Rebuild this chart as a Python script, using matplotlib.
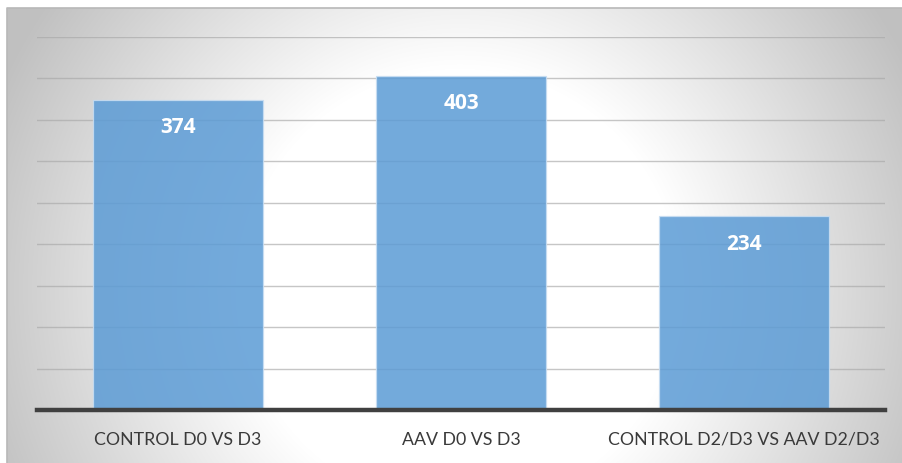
import numpy as np
import matplotlib
matplotlib.use("Agg")
import matplotlib.pyplot as plt

categories = ["CONTROL D0 VS D3", "AAV D0 VS D3", "CONTROL D2/D3 VS AAV D2/D3"]
values = [374, 403, 234]
y_max = 450
grid_step = 50

W, H = 903, 464
fig = plt.figure(figsize=(W / 100, H / 100), dpi=100)
fig.patch.set_facecolor("white")

# Chart-area background: radial white-to-grey gradient
bx0, by0 = 7, 9  # pixel offsets of the chart area (left, top)
bg = fig.add_axes([bx0 / W, 0, 1 - bx0 / W, (H - by0) / H])
bg.set_axis_off()
xs = np.arange(bx0, W) + 0.5
ys = np.arange(by0, H) + 0.5
X, Y = np.meshgrid(xs, ys)
r = np.hypot(X - 460, Y - 290)
g = 255 - 62 * np.clip((r - 220) / 280, 0, 1.12)
g = np.clip(g, 192, 255) / 255.0
bg.imshow(np.dstack([g, g, g]), aspect="auto", interpolation="bilinear",
          extent=[0, 1, 0, 1], transform=bg.transAxes)
bg.plot([0, 0, 1], [0, 1, 1], transform=bg.transAxes, color="#b8b8b8",
        lw=1.2, clip_on=False)
bg.set_xlim(0, 1)
bg.set_ylim(0, 1)

# Plot area
left, right = 36.5 / W, 885.5 / W
bottom, top = (H - 411) / H, (H - 38) / H
ax = fig.add_axes([left, bottom, right - left, top - bottom])
ax.patch.set_alpha(0)

x = np.arange(len(categories))
ax.set_xlim(-0.5, len(categories) - 0.5)
ax.set_ylim(0, y_max)

for yv in np.arange(grid_step, y_max + 1, grid_step):
    ax.axhline(yv, color="#a8a8a8", lw=1.0, alpha=0.65, zorder=1)

bars = ax.bar(x, values, width=0.6, color="#5B9BD5", alpha=0.85,
              edgecolor="#c9def2", linewidth=0.9, zorder=2)

# Value labels inside the top of each bar (offset given in pixels -> points)
for xi, v in zip(x, values):
    ax.annotate(str(v), xy=(xi, v), xytext=(0, -27 * 0.72), textcoords="offset points",
                ha="center", va="center", color="white", fontsize=15,
                fontweight="bold", family=["Open Sans", "DejaVu Sans"], zorder=4)

ax.axhline(0, color="#404040", lw=3.2, zorder=3, clip_on=False)

ax.set_xticks(x)
ax.set_xticklabels(categories, fontsize=12.8, color="#3a3a3a",
                   family=["Lato", "DejaVu Sans"])
ax.tick_params(axis="x", length=0, pad=15)
ax.set_yticks([])
for s in ax.spines.values():
    s.set_visible(False)

fig.savefig("out.png", dpi=100)
